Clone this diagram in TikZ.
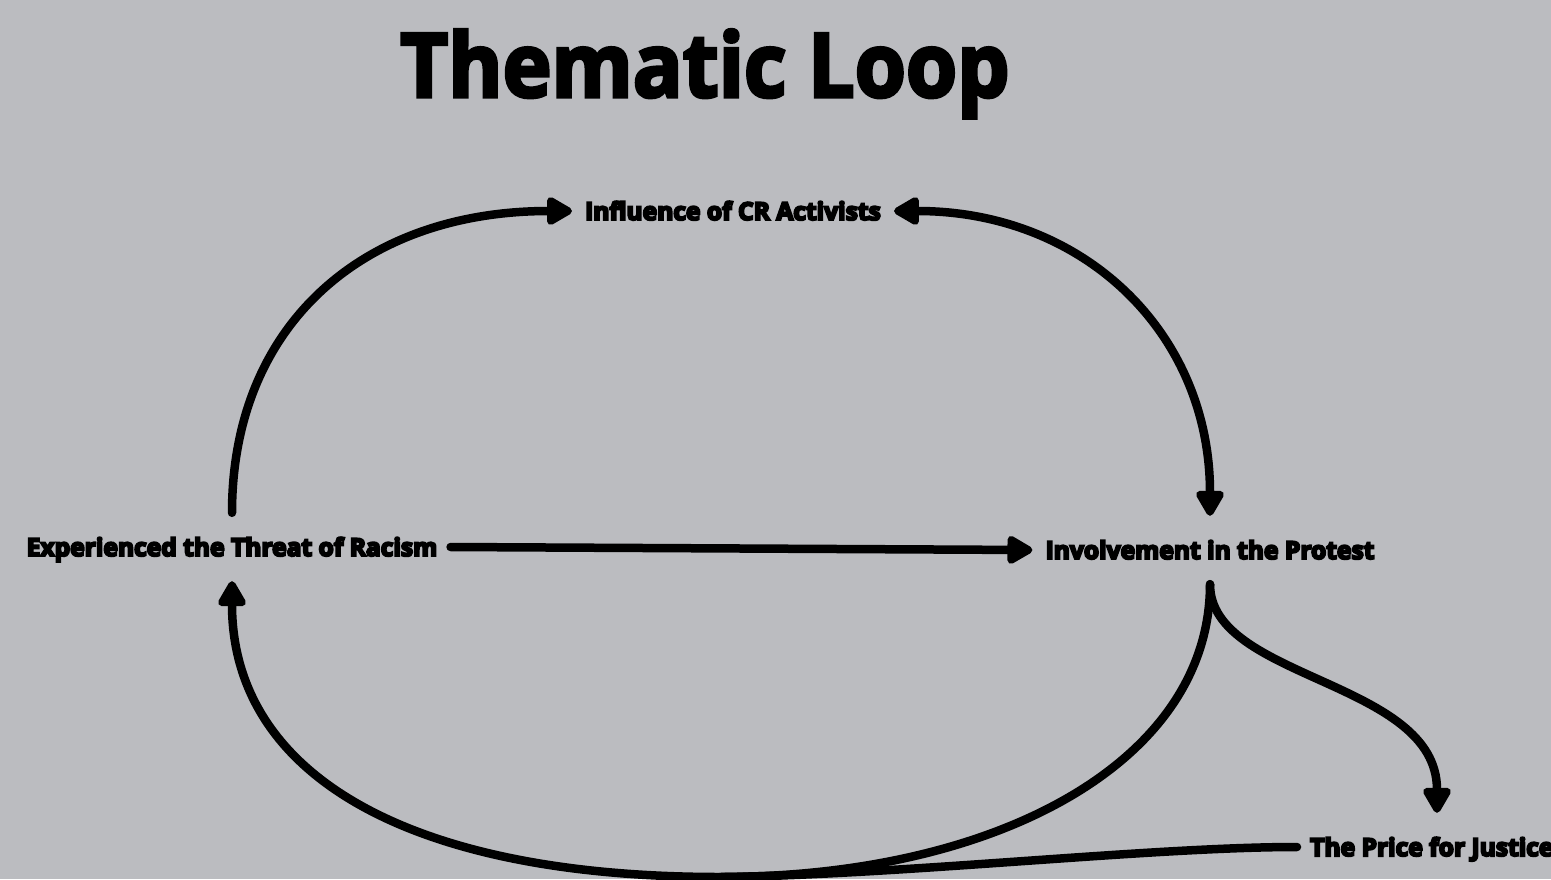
\documentclass[tikz,border=0pt]{standalone}
\usepackage{fontspec}
\usetikzlibrary{arrows.meta}
\setmainfont{Open Sans}
\newfontfamily\titlefont{Open Sans}[FakeBold=3.5, FakeStretch=0.93]
\newfontfamily\lblfont{Open Sans}[FakeBold=8]
\definecolor{bg}{RGB}{187,188,192}
\begin{document}
\begin{tikzpicture}[x=1pt,y=-1pt,
  lbl/.style={font=\lblfont\bfseries\fontsize{24.6}{25}\selectfont, inner xsep=13pt, inner ysep=0pt, minimum height=68pt, text height=18pt, text depth=0pt},
  tip/.tip={Triangle[length=29pt 0, width=31pt 0, round]},
  conn/.style={line width=8.5pt, line cap=round, -tip},
  conntwo/.style={line width=8.5pt, line cap=round, tip-tip},
  plainline/.style={line width=8.5pt, line cap=round}]
\fill[bg] (0,0) rectangle (1551,879);
\useasboundingbox (0,0) rectangle (1551,879);
\node[font=\titlefont\bfseries\fontsize{89}{89}\selectfont, anchor=base, inner sep=0pt] (title) at (705,97) {Thematic Loop};
\node[lbl] (inf) at (733,211) {Influence of CR Activists};
\node[lbl] (exp) at (232,547) {Experienced the Threat of Racism};
\node[lbl] (inv) at (1210,550) {Involvement in the Protest};
\node[lbl, anchor=west] (price) at (1297,847) {The Price for Justice};
\coordinate (merge) at (720,877);
\draw[conn] (exp.north) .. controls (232,327) and (361,211) .. (inf.west);
\draw[conntwo] (inf.east) .. controls (1084,211) and (1210,333) .. (inv.north);
\draw[conn] (exp.east) -- (inv.west);
\draw[conn] (inv.south) .. controls (1210,760) and (1000,877) .. (merge) .. controls (400,877) and (232,770) .. (exp.south);
\draw[conn] (inv.south) .. controls (1210,680) and (1437,680) .. ([xshift=140pt]price.north west);
\draw[plainline] (price.west) .. controls (1150,847) and (900,875) .. (merge);
\end{tikzpicture}
\end{document}
